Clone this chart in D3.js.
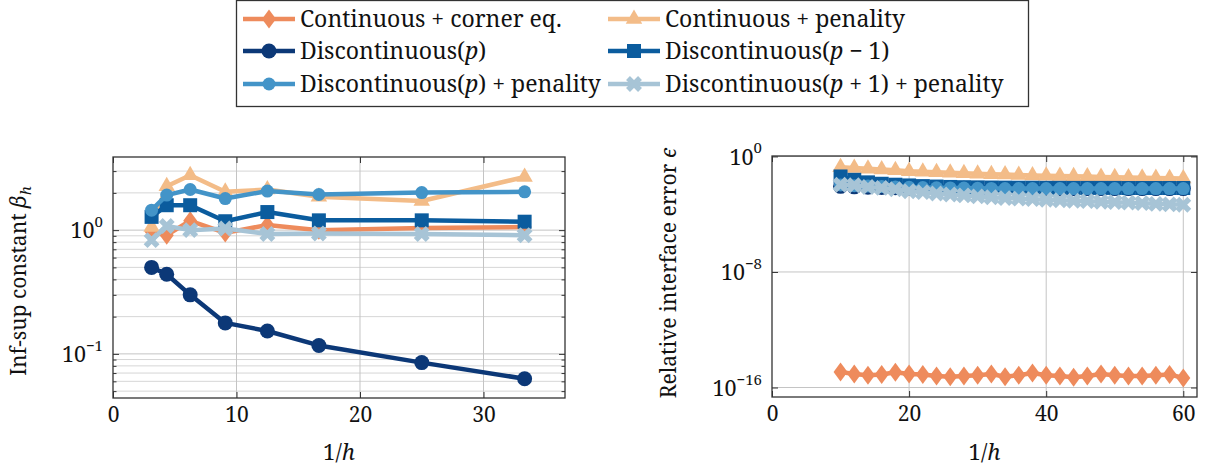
<!DOCTYPE html>
<html><head><meta charset="utf-8">
<script src="https://cdn.jsdelivr.net/npm/d3@7"></script>
<style>
html,body{margin:0;padding:0;background:#fff;}
svg{display:block;}
</style></head>
<body>
<svg id="chart" width="1232" height="473" font-family="Noto Serif"></svg>
<script>
// ---------------- data ----------------
const seriesNames = [
  "Continuous + corner eq.",
  "Continuous + penality",
  "Discontinuous(p)",
  "Discontinuous(p-1)",
  "Discontinuous(p) + penality",
  "Discontinuous(p+1) + penality"
];
// left panel: inf-sup constant vs 1/h
const leftX = [3.125, 4.35, 6.25, 9.09, 12.5, 16.67, 25, 33.33];
const leftCornerEq   = [0.97, 0.91, 1.19, 0.95, 1.10, 1.00, 1.04, 1.06];
const leftContPen    = [1.06, 2.26, 2.78, 2.04, 2.13, 1.86, 1.72, 2.69];
const leftDiscP      = [0.50, 0.44, 0.30, 0.178, 0.153, 0.117, 0.085, 0.063];
const leftDiscPm1    = [1.28, 1.59, 1.59, 1.18, 1.40, 1.20, 1.20, 1.17];
const leftDiscPPen   = [1.45, 1.92, 2.13, 1.80, 2.07, 1.94, 2.01, 2.04];
const leftDiscPp1Pen = [0.83, 1.08, 1.00, 1.03, 0.93, 0.94, 0.93, 0.91];
const leftXTicks = [0, 10, 20, 30];
const leftYTicks = [0.1, 1];
const leftYTickExp = ["\u22121", "0"];

// right panel: relative interface error vs 1/h
const rightX = [10,12,14,16,18,20,22,24,26,28,30,32,34,36,38,40,42,44,46,48,50,52,54,56,58,60];
const rightCornerEq = [1.20e-15,8.7e-16,7.1e-16,7.9e-16,1.15e-15,8.7e-16,7.9e-16,6.2e-16,5.5e-16,6.2e-16,
  7.1e-16,8.7e-16,5.5e-16,7.1e-16,1.02e-15,7.1e-16,6.2e-16,5.1e-16,6.2e-16,8.7e-16,
  7.1e-16,6.2e-16,6.2e-16,7.1e-16,7.9e-16,4.6e-16];
const rightContPen = [0.18,0.16,0.14,0.125,0.11,0.095,0.088,0.080,0.075,0.068,
  0.062,0.058,0.055,0.052,0.048,0.046,0.044,0.042,0.040,0.038,
  0.036,0.035,0.034,0.032,0.031,0.030];
const rightDiscP = [0.0085,0.0078,0.0073,0.0070,0.0068,0.0066,0.0065,0.0064,0.0063,0.0062,
  0.0061,0.0060,0.0060,0.0060,0.0060,0.0059,0.0059,0.0059,0.0059,0.0059,
  0.0059,0.0059,0.0059,0.0059,0.0059,0.0059];
const rightDiscPm1 = [0.041,0.024,0.016,0.0128,0.011,0.0098,0.0088,0.0082,0.0077,0.0074,
  0.0072,0.0070,0.0069,0.0068,0.0068,0.0067,0.0067,0.0066,0.0066,0.0066,
  0.0066,0.0065,0.0065,0.0065,0.0065,0.0065];
const rightDiscPPen = [0.0105,0.0095,0.0088,0.0082,0.0077,0.0073,0.0070,0.0068,0.0066,0.0064,
  0.0062,0.0061,0.0060,0.0060,0.0060,0.0059,0.0059,0.0059,0.0059,0.0059,
  0.0059,0.0059,0.0059,0.0059,0.0059,0.0059];
const rightDiscPp1Pen = [0.011,0.010,0.0076,0.0066,0.0053,0.0039,0.0034,0.0027,0.0023,0.0020,
  0.0017,0.0015,0.0013,0.0012,0.0011,0.0010,0.00092,0.00085,0.00080,0.00073,
  0.00068,0.00063,0.00058,0.00052,0.00048,0.00045];
const rightXTicks = [0, 20, 40, 60];
const rightYTicks = [1e-16, 1e-8, 1];
const rightYTickExp = ["\u221216", "\u22128", "0"];

// ---------------- styles ----------------
const FONT = "Noto Serif";
const colors  = ["#ee8b5c", "#f3bc88", "#0c3877", "#0b5c9e", "#4394c8", "#a7c4d6"];
const shapes  = ["diamond", "triangle", "circle", "square", "smallcircle", "cross"];

const svg = d3.select("#chart");

function marker(g, shape, cx, cy, color) {
  if (shape === "diamond") {
    g.append("path").attr("d", `M${cx},${cy-9.5}L${cx+7},${cy}L${cx},${cy+9.5}L${cx-7},${cy}Z`).attr("fill", color);
  } else if (shape === "triangle") {
    const r = 9.5;
    g.append("path").attr("d", `M${cx},${cy-r}L${cx+0.866*r},${cy+0.5*r}L${cx-0.866*r},${cy+0.5*r}Z`).attr("fill", color);
  } else if (shape === "circle") {
    g.append("circle").attr("cx", cx).attr("cy", cy).attr("r", 7.5).attr("fill", color);
  } else if (shape === "smallcircle") {
    g.append("circle").attr("cx", cx).attr("cy", cy).attr("r", 6.5).attr("fill", color);
  } else if (shape === "square") {
    g.append("rect").attr("x", cx-7).attr("y", cy-7).attr("width", 14).attr("height", 14).attr("fill", color);
  } else if (shape === "cross") {
    const a = 6;
    g.append("path").attr("d", `M${cx-a},${cy-a}L${cx+a},${cy+a}M${cx-a},${cy+a}L${cx+a},${cy-a}`)
      .attr("stroke", color).attr("stroke-width", 5.5).attr("fill", "none");
  }
}

function drawPanel(opt) {
  const {x, y, xs, series, xTicks, yTicks, yExp, minorGrid} = opt;
  const [x0, x1] = x.range();
  const [y0, y1] = y.range(); // y0 bottom, y1 top
  const g = svg.append("g");
  const grid = g.append("g");
  if (minorGrid) {
    const [d0, d1] = y.domain();
    const minors = [];
    for (let e = Math.floor(Math.log10(d0)); e <= Math.ceil(Math.log10(d1)); e++) {
      for (let m = 2; m <= 9; m++) { const v = m * Math.pow(10, e); if (v > d0 && v < d1) minors.push(v); }
    }
    grid.selectAll(".mg").data(minors).join("line")
      .attr("x1", x0).attr("x2", x1).attr("y1", d => y(d)).attr("y2", d => y(d))
      .attr("stroke", "#d6d6d6").attr("stroke-width", 1);
    opt.minors = minors;
  }
  grid.selectAll(".gy").data(yTicks).join("line")
    .attr("x1", x0).attr("x2", x1).attr("y1", d => y(d)).attr("y2", d => y(d))
    .attr("stroke", "#c4c4c4").attr("stroke-width", 1);
  grid.selectAll(".gx").data(xTicks.filter(t => x(t) > x0 + 1 && x(t) < x1 - 1)).join("line")
    .attr("x1", d => x(d)).attr("x2", d => x(d)).attr("y1", y0).attr("y2", y1)
    .attr("stroke", "#c4c4c4").attr("stroke-width", 1);

  series.forEach((vals, i) => {
    const sg = g.append("g");
    const line = d3.line().x((d, j) => x(xs[j])).y(d => y(d));
    sg.append("path").attr("d", line(vals)).attr("fill", "none")
      .attr("stroke", colors[i]).attr("stroke-width", 4.5).attr("stroke-linejoin", "round");
    vals.forEach((v, j) => marker(sg, shapes[i], x(xs[j]), y(v), colors[i]));
  });

  const axStyle = sel => {
    sel.attr("font-family", FONT).attr("font-size", 21);
    sel.select(".domain").remove();
    sel.selectAll(".tick line").attr("stroke", "#333").attr("stroke-width", 1);
    sel.selectAll("text").attr("fill", "#111");
  };
  g.append("g").attr("transform", `translate(0,${y0})`)
    .call(d3.axisBottom(x).tickValues(xTicks).tickSize(-6).tickPadding(9).tickFormat(d3.format("d")))
    .call(axStyle);
  g.append("g").attr("transform", `translate(0,${y1})`)
    .call(d3.axisTop(x).tickValues(xTicks).tickSize(-6).tickFormat(""))
    .call(axStyle);
  const yl = g.append("g").attr("transform", `translate(${x0},0)`)
    .call(d3.axisLeft(y).tickValues(yTicks).tickSize(-6).tickFormat(""))
    .call(axStyle);
  g.append("g").attr("transform", `translate(${x1},0)`)
    .call(d3.axisRight(y).tickValues(yTicks).tickSize(-6).tickFormat(""))
    .call(axStyle);
  if (opt.minors) {
    g.append("g").attr("transform", `translate(${x0},0)`)
      .call(d3.axisLeft(y).tickValues(opt.minors).tickSize(-3.5).tickFormat("")).call(axStyle);
    g.append("g").attr("transform", `translate(${x1},0)`)
      .call(d3.axisRight(y).tickValues(opt.minors).tickSize(-3.5).tickFormat("")).call(axStyle);
  }
  yl.selectAll(".tick").each(function(d, i) {
    const t = d3.select(this).append("text").attr("x", -10).attr("dy", "0.36em")
      .attr("text-anchor", "end").attr("font-size", 21.5).attr("font-family", FONT).attr("fill", "#111");
    t.append("tspan").text("10");
    t.append("tspan").attr("font-size", 15).attr("dy", "-0.75em").text(yExp[i]);
  });
  g.append("rect").attr("x", x0).attr("y", y1).attr("width", x1 - x0).attr("height", y0 - y1)
    .attr("fill", "none").attr("stroke", "#333").attr("stroke-width", 1.3);

  const xl = g.append("text").attr("x", (x0 + x1) / 2).attr("y", 460).attr("text-anchor", "middle")
    .attr("font-size", 22).attr("font-family", FONT).attr("fill", "#111");
  xl.append("tspan").text("1/");
  xl.append("tspan").attr("font-style", "italic").text("h");
  const ylab = g.append("text").attr("transform", `translate(${opt.ylabX},${opt.ylabY}) rotate(-90)`)
    .attr("text-anchor", "middle").attr("font-size", opt.ylabSize).attr("font-family", FONT).attr("fill", "#111");
  opt.ylabel(ylab);
}

drawPanel({
  x: d3.scaleLinear().domain([0, 36.6]).range([113, 565]),
  y: d3.scaleLog().domain([0.044, 3.9]).range([398, 157]),
  xs: leftX,
  series: [leftCornerEq, leftContPen, leftDiscP, leftDiscPm1, leftDiscPPen, leftDiscPp1Pen],
  xTicks: leftXTicks, yTicks: leftYTicks, yExp: leftYTickExp, minorGrid: true,
  ylabX: 26, ylabY: 281, ylabSize: 21,
  ylabel: t => {
    t.append("tspan").text("Inf-sup constant ");
    t.append("tspan").attr("font-style", "italic").text("\u03b2");
    t.append("tspan").attr("font-style", "italic").attr("font-size", 15).attr("dy", "0.3em").text("h");
  }
});

drawPanel({
  x: d3.scaleLinear().domain([0, 62]).range([772, 1197]),
  y: d3.scaleLog().domain([2.2e-17, 1.07]).range([397, 156]),
  xs: rightX,
  series: [rightCornerEq, rightContPen, rightDiscP, rightDiscPm1, rightDiscPPen, rightDiscPp1Pen],
  xTicks: rightXTicks, yTicks: rightYTicks, yExp: rightYTickExp, minorGrid: false,
  ylabX: 676, ylabY: 273, ylabSize: 21,
  ylabel: t => {
    t.append("tspan").text("Relative interface error ");
    t.append("tspan").attr("font-style", "italic").text("\u03f5");
  }
});

// ---------------- legend ----------------
const lg = svg.append("g");
lg.append("rect").attr("x", 236.5).attr("y", 0.5).attr("width", 792).attr("height", 106)
  .attr("fill", "#fff").attr("stroke", "#333").attr("stroke-width", 1.3);
const legendLabels = [
  t => { t.append("tspan").text("Continuous + corner eq."); },
  t => { t.append("tspan").text("Continuous + penality"); },
  t => { t.append("tspan").text("Discontinuous("); t.append("tspan").attr("font-style","italic").text("p"); t.append("tspan").text(")"); },
  t => { t.append("tspan").text("Discontinuous("); t.append("tspan").attr("font-style","italic").text("p"); t.append("tspan").text(" \u2212 1)"); },
  t => { t.append("tspan").text("Discontinuous("); t.append("tspan").attr("font-style","italic").text("p"); t.append("tspan").text(") + penality"); },
  t => { t.append("tspan").text("Discontinuous("); t.append("tspan").attr("font-style","italic").text("p"); t.append("tspan").text(" + 1) + penality"); }
];
const colX = [243, 608];
const rowY = [19, 51, 84];
seriesNames.forEach((name, i) => {
  const cx = colX[i % 2], cy = rowY[Math.floor(i / 2)];
  const eg = lg.append("g");
  eg.append("line").attr("x1", cx).attr("x2", cx + 52).attr("y1", cy).attr("y2", cy)
    .attr("stroke", colors[i]).attr("stroke-width", 4.5);
  marker(eg, shapes[i], cx + 26, cy, colors[i]);
  const t = eg.append("text").attr("x", cx + 57).attr("y", cy).attr("dy", "0.35em")
    .attr("font-size", 23).attr("font-family", FONT).attr("fill", "#111");
  legendLabels[i](t);
});
</script>
</body></html>
